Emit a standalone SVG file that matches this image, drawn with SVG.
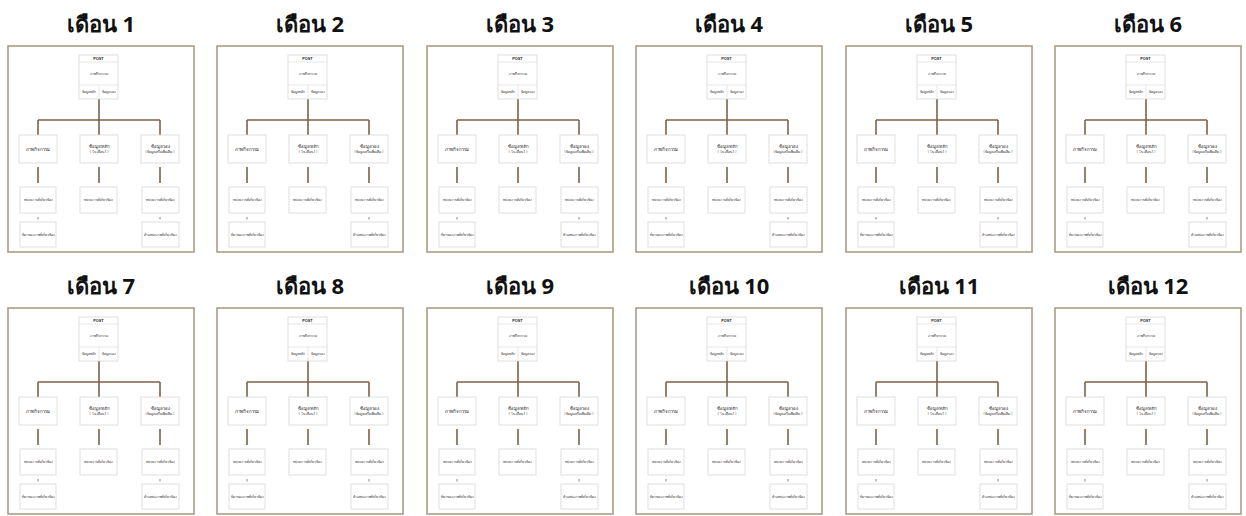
<svg xmlns="http://www.w3.org/2000/svg" xmlns:xlink="http://www.w3.org/1999/xlink" width="1246" height="516" viewBox="0 0 1246 516">
  <style>
    .title { font-family: "Noto Sans", "Liberation Sans", "DejaVu Sans", sans-serif; font-weight: bold; font-size: 22px; fill: #111; text-anchor: middle; }
    .frame { fill: #fff; stroke: #a8957f; stroke-width: 1.5; }
    .box { fill: #fff; stroke: #d6d6d6; stroke-width: 0.8; }
    .sep { stroke: #d6d6d6; stroke-width: 0.6; }
    .link { stroke: #7d6148; stroke-width: 1.6; fill: none; }
    .tick { stroke: #7d6148; stroke-width: 0.8; fill: none; }
    .t { font-family: "Noto Sans", "Liberation Sans", "DejaVu Sans", sans-serif; font-size: 3.4px; fill: #333; text-anchor: middle; }
    .tb { font-family: "Liberation Sans", sans-serif; font-size: 3.8px; font-weight: bold; fill: #222; text-anchor: middle; }
    .tm { font-family: "Noto Sans", "Liberation Sans", "DejaVu Sans", sans-serif; font-size: 4.4px; fill: #222; text-anchor: middle; }
  </style>
  <defs>
    <!-- one monthly content tree; coordinates relative to the frame's top-left corner -->
    <g id="panel">
      <rect class="frame" x="0" y="0" width="186" height="206"/>
      <g id="connectors">
        <path class="link" d="M91 53 V74 M30 74 H152 M30 74 V89 M91 74 V89 M152 74 V89"/>
        <path class="link" d="M30 121 V137 M91 121 V137 M152 121 V137"/>
        <path class="tick" d="M30 171 V173.5 M152 171 V173.5"/>
      </g>
      <g id="post">
        <rect class="box" x="71" y="9" width="39" height="44"/>
        <line class="sep" x1="71" y1="16" x2="110" y2="16"/>
        <line class="sep" x1="71" y1="39" x2="110" y2="39"/>
        <line class="sep" x1="91" y1="39" x2="91" y2="53"/>
        <text class="tb" x="90.5" y="14.2">POST</text>
        <text class="t" x="90.5" y="29">ภาพกิจกรรม</text>
        <text class="t" x="81" y="47" font-size="2.8">ข้อมูลหลัก</text>
        <text class="t" x="100.5" y="47" font-size="2.8">ข้อมูลรอง</text>
      </g>
      <g id="activity">
        <rect class="box" x="11" y="89" width="38" height="28"/>
        <text class="tm" x="30" y="104.5">ภาพกิจกรรม</text>
      </g>
      <g id="main-info">
        <rect class="box" x="72" y="89" width="38" height="28"/>
        <text class="tm" x="91" y="101.5">ข้อมูลหลัก</text>
        <text class="t" x="91" y="107" font-size="2.8">( ใน เดือน 1 )</text>
      </g>
      <g id="extra-info">
        <rect class="box" x="133" y="89" width="38" height="28"/>
        <text class="tm" x="152" y="101.5">ข้อมูลรอง</text>
        <text class="t" x="152" y="107" font-size="2.6">( ข้อมูลเสริมเพิ่มเติม )</text>
      </g>
      <g id="agency-1">
        <rect class="box" x="12" y="141" width="36" height="26"/>
        <text class="t" x="30" y="155" font-size="2.8">หน่วยงานที่เกี่ยวข้อง</text>
      </g>
      <g id="agency-2">
        <rect class="box" x="72" y="141" width="37" height="26"/>
        <text class="t" x="90.5" y="155" font-size="2.8">หน่วยงานที่เกี่ยวข้อง</text>
      </g>
      <g id="agency-3">
        <rect class="box" x="134" y="141" width="37" height="26"/>
        <text class="t" x="152.5" y="155" font-size="2.8">หน่วยงานที่เกี่ยวข้อง</text>
      </g>
      <g id="source">
        <rect class="box" x="12" y="176" width="36" height="25"/>
        <text class="t" x="30" y="189.5" font-size="2.6">ที่มาของภาพที่เกี่ยวข้อง</text>
      </g>
      <g id="location">
        <rect class="box" x="134" y="176" width="37" height="25"/>
        <text class="t" x="152.5" y="189.5" font-size="2.6">ตำแหน่งภาพที่เกี่ยวข้อง</text>
      </g>
    </g>
  </defs>
  <rect width="1246" height="516" fill="#fff"/>

  <!-- row 1: months 1-6 -->
  <g id="month-1"><text class="title" x="101" y="32">เดือน 1</text><use xlink:href="#panel" transform="translate(8,46)"/></g>
  <g id="month-2"><text class="title" x="310" y="32">เดือน 2</text><use xlink:href="#panel" transform="translate(217,46)"/></g>
  <g id="month-3"><text class="title" x="520" y="32">เดือน 3</text><use xlink:href="#panel" transform="translate(427,46)"/></g>
  <g id="month-4"><text class="title" x="729" y="32">เดือน 4</text><use xlink:href="#panel" transform="translate(636,46)"/></g>
  <g id="month-5"><text class="title" x="939" y="32">เดือน 5</text><use xlink:href="#panel" transform="translate(846,46)"/></g>
  <g id="month-6"><text class="title" x="1148" y="32">เดือน 6</text><use xlink:href="#panel" transform="translate(1055,46)"/></g>

  <!-- row 2: months 7-12 -->
  <g id="month-7"><text class="title" x="101" y="294">เดือน 7</text><use xlink:href="#panel" transform="translate(8,308)"/></g>
  <g id="month-8"><text class="title" x="310" y="294">เดือน 8</text><use xlink:href="#panel" transform="translate(217,308)"/></g>
  <g id="month-9"><text class="title" x="520" y="294">เดือน 9</text><use xlink:href="#panel" transform="translate(427,308)"/></g>
  <g id="month-10"><text class="title" x="729" y="294">เดือน 10</text><use xlink:href="#panel" transform="translate(636,308)"/></g>
  <g id="month-11"><text class="title" x="939" y="294">เดือน 11</text><use xlink:href="#panel" transform="translate(846,308)"/></g>
  <g id="month-12"><text class="title" x="1148" y="294">เดือน 12</text><use xlink:href="#panel" transform="translate(1055,308)"/></g>
</svg>
